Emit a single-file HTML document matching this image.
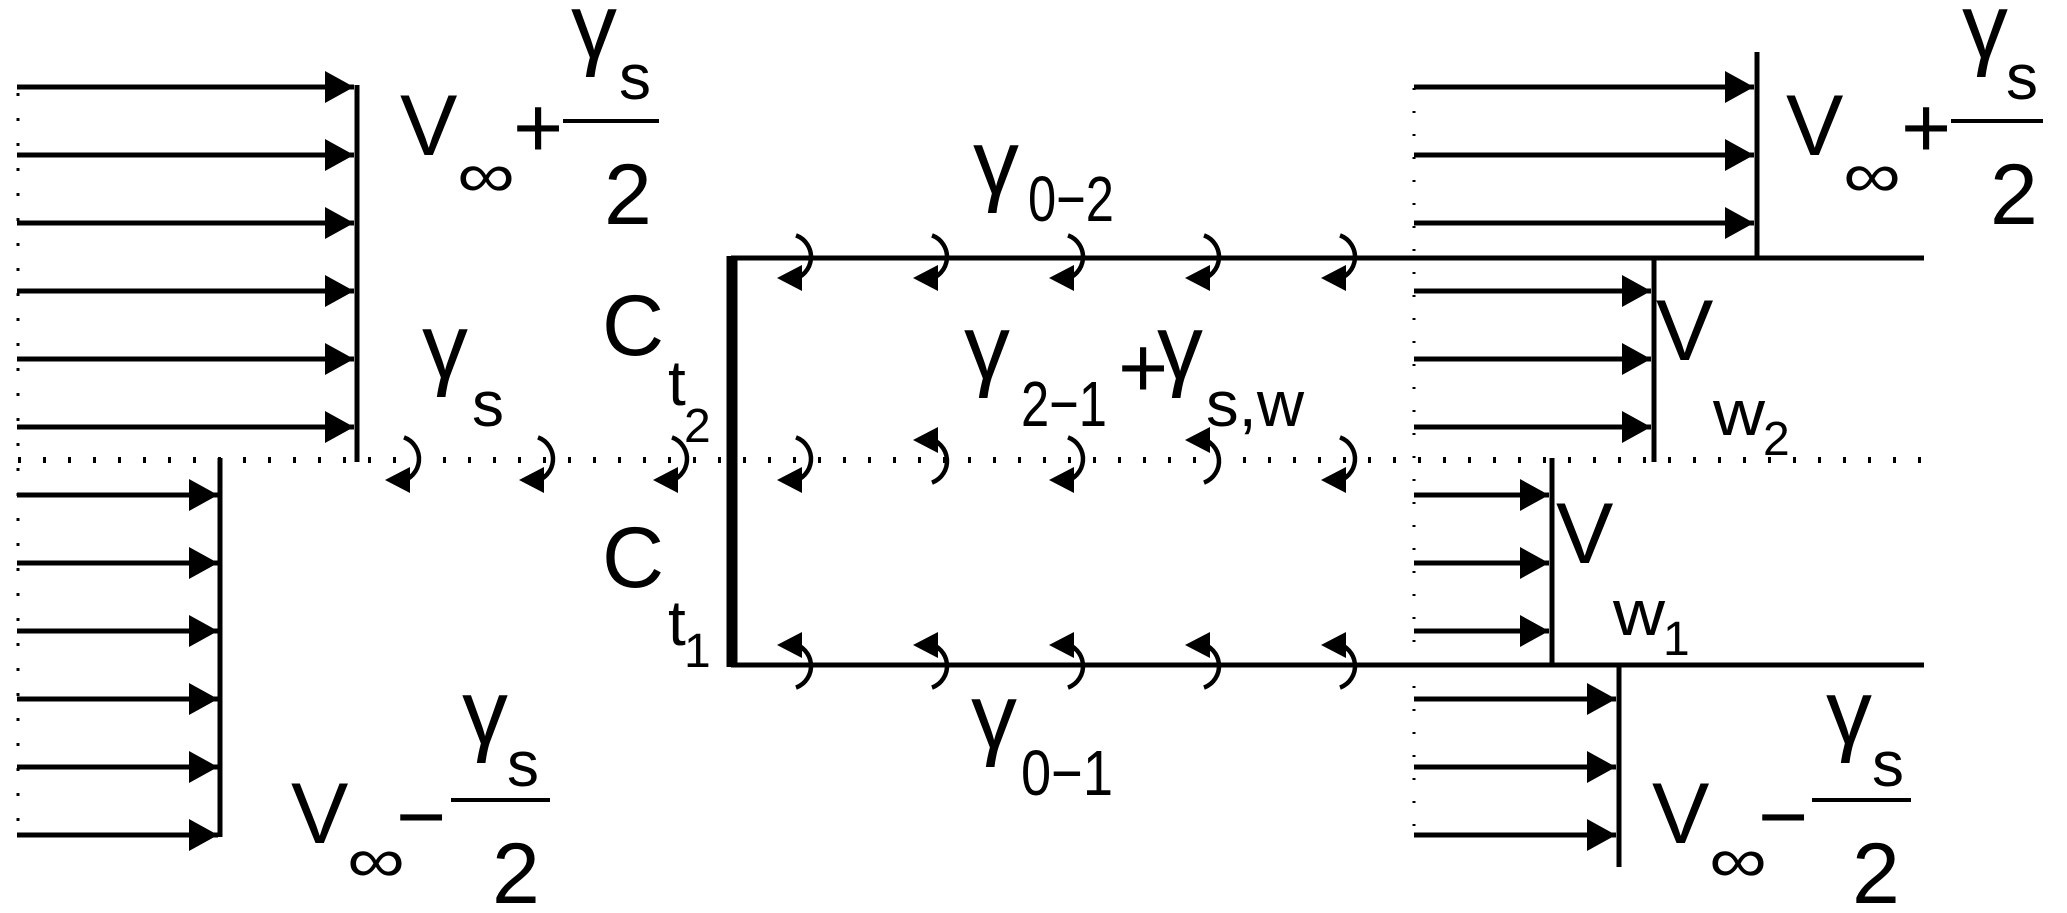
<!DOCTYPE html>
<html><head><meta charset="utf-8"><style>
html,body{margin:0;padding:0;background:#fff;}
svg{display:block;}
text{font-family:"Liberation Sans",sans-serif;fill:#000;}
.b{font-size:86px;}
.g{font-size:92px;}
.s{font-size:64px;}
.t{font-size:48px;}
</style></head><body>
<svg width="2067" height="913" viewBox="0 0 2067 913" xmlns="http://www.w3.org/2000/svg">
<defs>
<marker id="ah" viewBox="0 0 29 32" refX="29" refY="16" markerWidth="29" markerHeight="32" markerUnits="userSpaceOnUse" orient="auto">
<path d="M0,0 L29,16 L0,32 z" fill="#000"/>
</marker>
<g id="cw"><path d="M-4,-22.6 A23,23 0 0 1 -7.9,21.6" fill="none" stroke="#000" stroke-width="4.5"/><path d="M-23,20 L2,7 L2,33 z" fill="#000"/></g>
<g id="ccw"><path d="M-4,22.6 A23,23 0 0 0 -7.9,-21.6" fill="none" stroke="#000" stroke-width="4.5"/><path d="M-23,-20 L2,-7 L2,-33 z" fill="#000"/></g>
</defs>

<line x1="18" y1="460" x2="1934" y2="460" stroke="#000" stroke-width="6" stroke-dasharray="3 22"/>
<line x1="18" y1="93" x2="18" y2="840" stroke="#000" stroke-width="3" stroke-dasharray="3 22"/>
<line x1="1414" y1="88" x2="1414" y2="840" stroke="#000" stroke-width="3" stroke-dasharray="2 21"/>

<g stroke="#000" stroke-width="5" marker-end="url(#ah)">
<line x1="17" y1="87" x2="354" y2="87"/>
<line x1="17" y1="155" x2="354" y2="155"/>
<line x1="17" y1="223" x2="354" y2="223"/>
<line x1="17" y1="291" x2="354" y2="291"/>
<line x1="17" y1="359" x2="354" y2="359"/>
<line x1="17" y1="427" x2="354" y2="427"/>
<line x1="17" y1="495" x2="218" y2="495"/>
<line x1="17" y1="563" x2="218" y2="563"/>
<line x1="17" y1="631" x2="218" y2="631"/>
<line x1="17" y1="699" x2="218" y2="699"/>
<line x1="17" y1="767" x2="218" y2="767"/>
<line x1="17" y1="835" x2="218" y2="835"/>
<line x1="1414" y1="87" x2="1754" y2="87"/>
<line x1="1414" y1="155" x2="1754" y2="155"/>
<line x1="1414" y1="223" x2="1754" y2="223"/>
<line x1="1414" y1="291" x2="1651" y2="291"/>
<line x1="1414" y1="359" x2="1651" y2="359"/>
<line x1="1414" y1="427" x2="1651" y2="427"/>
<line x1="1414" y1="495" x2="1549" y2="495"/>
<line x1="1414" y1="563" x2="1549" y2="563"/>
<line x1="1414" y1="631" x2="1549" y2="631"/>
<line x1="1414" y1="699" x2="1616" y2="699"/>
<line x1="1414" y1="767" x2="1616" y2="767"/>
<line x1="1414" y1="835" x2="1616" y2="835"/>
</g>

<g stroke="#000" stroke-width="5">
<line x1="357" y1="85" x2="357" y2="462"/>
<line x1="220" y1="458" x2="220" y2="837"/>
<line x1="1757" y1="52" x2="1757" y2="258"/>
<line x1="1654" y1="256" x2="1654" y2="462"/>
<line x1="1552" y1="458" x2="1552" y2="667"/>
<line x1="1619" y1="663" x2="1619" y2="867"/>
<line x1="731" y1="258" x2="1924" y2="258"/>
<line x1="731" y1="665" x2="1924" y2="665"/>
</g>
<line x1="732" y1="256" x2="732" y2="667" stroke="#000" stroke-width="11"/>

<use href="#cw" x="408" y="460"/>
<use href="#cw" x="542" y="460"/>
<use href="#cw" x="676" y="460"/>
<use href="#cw" x="800" y="258"/>
<use href="#cw" x="936" y="258"/>
<use href="#cw" x="1072" y="258"/>
<use href="#cw" x="1208" y="258"/>
<use href="#cw" x="1344" y="258"/>
<use href="#cw" x="800" y="460"/>
<use href="#ccw" x="936" y="460"/>
<use href="#cw" x="1072" y="460"/>
<use href="#ccw" x="1208" y="460"/>
<use href="#cw" x="1344" y="460"/>
<use href="#ccw" x="800" y="665"/>
<use href="#ccw" x="936" y="665"/>
<use href="#ccw" x="1072" y="665"/>
<use href="#ccw" x="1208" y="665"/>
<use href="#ccw" x="1344" y="665"/>

<g stroke="#000" stroke-width="4">
<line x1="563" y1="121" x2="659" y2="121"/>
<line x1="451" y1="800" x2="550" y2="800"/>
<line x1="1951" y1="121" x2="2043" y2="121"/>
<line x1="1812" y1="800" x2="1911" y2="800"/>
</g>

<!-- top-left label -->
<text class="b" x="400" y="155">V</text>
<text class="s" x="457" y="197" textLength="58" lengthAdjust="spacingAndGlyphs">∞</text>
<text class="b" x="513" y="157">+</text>
<text class="g" x="571" y="58">γ</text>
<text class="s" x="619" y="99">s</text>
<text class="b" x="604" y="224">2</text>

<text class="g" x="422" y="378">γ</text>
<text class="s" x="472" y="426">s</text>

<!-- lower-left label -->
<text class="b" x="291" y="843">V</text>
<text class="s" x="347" y="882" textLength="58" lengthAdjust="spacingAndGlyphs">∞</text>
<text class="b" x="396" y="846">−</text>
<text class="g" x="462" y="744">γ</text>
<text class="s" x="507" y="786">s</text>
<text class="b" x="492" y="903">2</text>

<!-- C labels -->
<text class="b" x="602" y="355">C</text>
<text class="s" x="668" y="405">t</text>
<text class="t" x="684" y="442">2</text>
<text class="b" x="602" y="587">C</text>
<text class="s" x="668" y="645">t</text>
<text class="t" x="684" y="667">1</text>

<!-- center labels -->
<text class="g" x="973" y="194">γ</text>
<text class="s" x="1028" y="221" textLength="86" lengthAdjust="spacingAndGlyphs">0−2</text>
<text class="g" x="964" y="379">γ</text>
<text class="s" x="1021" y="426" textLength="86" lengthAdjust="spacingAndGlyphs">2−1</text>
<text class="b" x="1118" y="397">+</text>
<text class="g" x="1157" y="379">γ</text>
<text class="s" x="1206" y="426" textLength="98" lengthAdjust="spacingAndGlyphs">s,w</text>
<text class="g" x="971" y="748">γ</text>
<text class="s" x="1021" y="795" textLength="92" lengthAdjust="spacingAndGlyphs">0−1</text>

<!-- right labels -->
<text class="b" x="1786" y="155">V</text>
<text class="s" x="1843" y="197" textLength="58" lengthAdjust="spacingAndGlyphs">∞</text>
<text class="b" x="1901" y="157">+</text>
<text class="g" x="1962" y="58">γ</text>
<text class="s" x="2006" y="99">s</text>
<text class="b" x="1990" y="224">2</text>

<text class="b" x="1656" y="360">V</text>
<text class="s" x="1713" y="435" textLength="52" lengthAdjust="spacingAndGlyphs">w</text>
<text class="t" x="1763" y="455">2</text>

<text class="b" x="1556" y="563">V</text>
<text class="s" x="1613" y="635" textLength="52" lengthAdjust="spacingAndGlyphs">w</text>
<text class="t" x="1663" y="655">1</text>

<text class="b" x="1652" y="843">V</text>
<text class="s" x="1709" y="882" textLength="58" lengthAdjust="spacingAndGlyphs">∞</text>
<text class="b" x="1758" y="846">−</text>
<text class="g" x="1826" y="744">γ</text>
<text class="s" x="1872" y="786">s</text>
<text class="b" x="1852" y="903">2</text>
</svg>
</body></html>
